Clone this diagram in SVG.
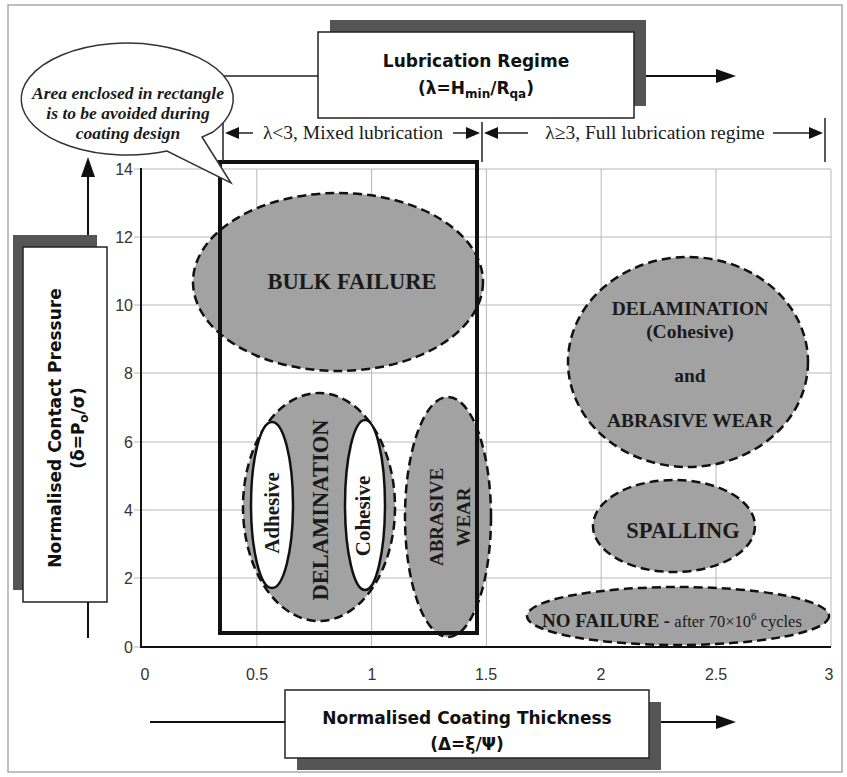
<svg xmlns="http://www.w3.org/2000/svg" width="847" height="777" viewBox="0 0 847 777">
<style>
.grid{stroke:#b8b8b8;stroke-width:1;fill:none}
.axis{stroke:#111;stroke-width:2;fill:none}
.ln{stroke:#111;stroke-width:2;fill:none}
.thin{stroke:#222;stroke-width:1.5;fill:none}
.zone{fill:#a2a2a2;stroke:#111;stroke-width:2.5;stroke-dasharray:9 5}
.sub{fill:#fff;stroke:#111;stroke-width:2.5}
.box{fill:#fff;stroke:#222;stroke-width:1.5}
.shadow{fill:#555}
.sans{font-family:"DejaVu Sans",Verdana,sans-serif;font-weight:bold;font-size:17px;fill:#111}
.tick{font-family:"Liberation Sans",Arial,sans-serif;font-size:16px;fill:#333}
.serif{font-family:"Liberation Serif","Times New Roman",serif;fill:#1a1a1a}
.b{font-weight:bold}
.ah{fill:#111}
</style>
<rect x="0" y="0" width="847" height="777" fill="#fff"/>
<rect x="8" y="5" width="834" height="767" fill="none" stroke="#aaa" stroke-width="1.5"/>

<g id="grid">
<path class="grid" d="M141 169H831M141 237H831M141 305H831M141 373H831M141 442H831M141 510H831M141 578H831"/>
<path class="grid" d="M256.8 169V647M371.6 169V647M486.4 169V647M601.2 169V647M716 169V647M831 169V647"/>
<path class="grid" d="M134 169H141M134 237H141M134 305H141M134 373H141M134 442H141M134 510H141M134 578H141M134 647H141"/>
</g>

<g id="axes">
<path class="axis" d="M141 168V647H831"/>
<g class="tick" text-anchor="end">
<text x="133" y="175">14</text><text x="133" y="243">12</text><text x="133" y="311">10</text>
<text x="133" y="379">8</text><text x="133" y="448">6</text><text x="133" y="516">4</text>
<text x="133" y="584">2</text><text x="133" y="653">0</text>
</g>
<g class="tick" text-anchor="middle">
<text x="145" y="680">0</text><text x="257" y="680">0.5</text><text x="372" y="680">1</text>
<text x="486" y="680">1.5</text><text x="601" y="680">2</text><text x="716" y="680">2.5</text><text x="829" y="680">3</text>
</g>
</g>

<g id="bulk-failure">
<ellipse class="zone" cx="338" cy="282" rx="145" ry="89"/>
<text class="serif b" x="352" y="289" font-size="22.5" text-anchor="middle">BULK FAILURE</text>
</g>

<g id="delamination-cohesive-abrasive">
<ellipse class="zone" cx="688" cy="362" rx="120" ry="105"/>
<g class="serif b" font-size="19.5" text-anchor="middle">
<text x="690" y="315">DELAMINATION</text>
<text x="690" y="338">(Cohesive)</text>
<text x="690" y="382">and</text>
<text x="690" y="427">ABRASIVE WEAR</text>
</g>
</g>

<g id="spalling">
<ellipse class="zone" cx="674" cy="526" rx="81" ry="46"/>
<text class="serif b" x="683" y="538" font-size="22.5" text-anchor="middle">SPALLING</text>
</g>

<g id="no-failure">
<ellipse class="zone" cx="678" cy="616" rx="151" ry="29"/>
<text class="serif" x="542" y="627"><tspan class="b" font-size="19">NO FAILURE</tspan><tspan class="b" font-size="18"> - </tspan><tspan font-size="16.5">after 70×10</tspan><tspan font-size="11" dy="-7">6</tspan><tspan font-size="16.5" dy="7"> cycles</tspan></text>
</g>

<g id="delamination">
<ellipse class="zone" cx="319" cy="507" rx="76" ry="114"/>
<ellipse class="sub" cx="272" cy="505" rx="21" ry="83"/>
<ellipse class="sub" cx="365" cy="505" rx="20" ry="85"/>
<text class="serif b" font-size="21" text-anchor="middle" transform="translate(279 513) rotate(-90)">Adhesive</text>
<text class="serif b" font-size="22.5" text-anchor="middle" transform="translate(328 510) rotate(-90)">DELAMINATION</text>
<text class="serif b" font-size="21" text-anchor="middle" transform="translate(370 516) rotate(-90)">Cohesive</text>
</g>

<g id="abrasive-wear">
<ellipse class="zone" cx="448" cy="517" rx="43" ry="120"/>
<text class="serif b" font-size="19" text-anchor="middle" transform="translate(443 517) rotate(-90)">ABRASIVE</text>
<text class="serif b" font-size="19" text-anchor="middle" transform="translate(470 517) rotate(-90)">WEAR</text>
</g>

<g id="avoid-rectangle">
<rect x="220" y="162" width="257" height="471" fill="none" stroke="#111" stroke-width="4"/>
</g>

<g id="connectors">
<path class="thin" d="M223 76H318M223 76V162"/>
<path class="ln" d="M634 76H718"/>
<polygon class="ah" points="736,76 716,69 716,83"/>
<path class="ln" d="M88 638V602M88 247V175"/>
<polygon class="ah" points="88,157 81,177 95,177"/>
<path class="ln" d="M150 722H285M649 722H718"/>
<polygon class="ah" points="736,722 716,715 716,729"/>
<path class="thin" d="M482 122V162M825 118V162"/>
<path class="thin" d="M238 133H253M453 133H467M497 133H528M773 133H810"/>
<polygon class="ah" points="225,133 239,127 239,139"/>
<polygon class="ah" points="480,133 466,127 466,139"/>
<polygon class="ah" points="484,133 498,127 498,139"/>
<polygon class="ah" points="823,133 809,127 809,139"/>
</g>

<g id="lambda-labels">
<text class="serif" x="353" y="139" font-size="19.5" text-anchor="middle">λ&lt;3, Mixed lubrication</text>
<text class="serif" x="655" y="139" font-size="19.5" text-anchor="middle">λ≥3, Full lubrication regime</text>
</g>

<g id="callout">
<path d="M167 151A106 56 0 1 1 213 132L202 137L231 183Z" fill="#fff" stroke="#333" stroke-width="1.5"/>
<g class="serif b" font-style="italic" font-size="17.5" text-anchor="middle">
<text x="128" y="99">Area enclosed in rectangle</text>
<text x="128" y="119">is to be avoided during</text>
<text x="128" y="139">coating design</text>
</g>
</g>

<g id="lubrication-regime-box">
<rect class="shadow" x="330" y="20" width="316" height="86"/>
<rect class="box" x="318" y="32" width="316" height="86"/>
<text class="sans" x="476" y="67" text-anchor="middle">Lubrication Regime</text>
<text class="sans" x="476" y="94" text-anchor="middle">(λ=H<tspan font-size="12" dy="4">min</tspan><tspan dy="-4">/R</tspan><tspan font-size="12" dy="4">qa</tspan><tspan dy="-4">)</tspan></text>
</g>

<g id="contact-pressure-box">
<rect class="shadow" x="13" y="235" width="84" height="355"/>
<rect class="box" x="23" y="247" width="84" height="355"/>
<text class="sans" text-anchor="middle" transform="translate(61 428) rotate(-90)">Normalised Contact Pressure</text>
<text class="sans" text-anchor="middle" transform="translate(84 428) rotate(-90)">(δ=P<tspan font-size="12" dy="4">o</tspan><tspan dy="-4">/σ)</tspan></text>
</g>

<g id="coating-thickness-box">
<rect class="shadow" x="297" y="702" width="364" height="68"/>
<rect class="box" x="285" y="690" width="364" height="68"/>
<text class="sans" x="467" y="724" text-anchor="middle">Normalised Coating Thickness</text>
<text class="sans" x="467" y="750" text-anchor="middle">(Δ=ξ/Ψ)</text>
</g>
</svg>
